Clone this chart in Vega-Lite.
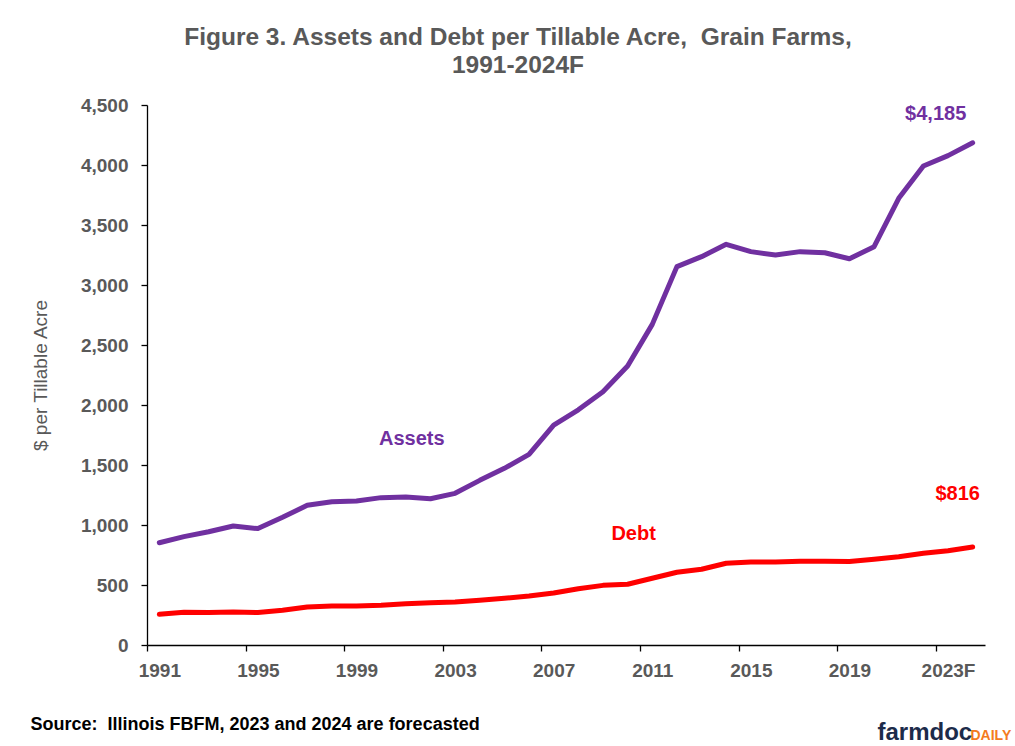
{
  "$schema": "https://vega.github.io/schema/vega-lite/v6.json",
  "width": 838,
  "height": 540,
  "autosize": "none",
  "padding": {"left": 147, "top": 105, "right": 30, "bottom": 101},
  "background": "#ffffff",
  "title": {
    "text": ["Figure 3. Assets and Debt per Tillable Acre,\u00a0 Grain Farms,", "1991-2024F"],
    "font": "Liberation Sans",
    "fontSize": 24.5,
    "fontWeight": "bold",
    "color": "#595959",
    "lineHeight": 28,
    "anchor": "middle",
    "frame": "group",
    "baseline": "bottom",
    "offset": -6,
    "dx": -48
  },
  "config": {
    "view": {"stroke": null},
    "font": "Liberation Sans",
    "axis": {
      "domainColor": "#000000",
      "domainWidth": 1.3,
      "tickColor": "#000000",
      "tickWidth": 1.3,
      "tickSize": 6,
      "labelFont": "Liberation Sans",
      "labelFontSize": 19,
      "labelFontWeight": "bold",
      "labelColor": "#595959",
      "grid": false
    }
  },
  "datasets": {
    "farm": [
      {"year": 1991, "series": "Assets", "value": 852},
      {"year": 1992, "series": "Assets", "value": 903},
      {"year": 1993, "series": "Assets", "value": 944},
      {"year": 1994, "series": "Assets", "value": 992},
      {"year": 1995, "series": "Assets", "value": 970},
      {"year": 1996, "series": "Assets", "value": 1064},
      {"year": 1997, "series": "Assets", "value": 1164},
      {"year": 1998, "series": "Assets", "value": 1194},
      {"year": 1999, "series": "Assets", "value": 1200},
      {"year": 2000, "series": "Assets", "value": 1228},
      {"year": 2001, "series": "Assets", "value": 1233},
      {"year": 2002, "series": "Assets", "value": 1219},
      {"year": 2003, "series": "Assets", "value": 1264},
      {"year": 2004, "series": "Assets", "value": 1372},
      {"year": 2005, "series": "Assets", "value": 1472},
      {"year": 2006, "series": "Assets", "value": 1589},
      {"year": 2007, "series": "Assets", "value": 1833},
      {"year": 2008, "series": "Assets", "value": 1960},
      {"year": 2009, "series": "Assets", "value": 2111},
      {"year": 2010, "series": "Assets", "value": 2325},
      {"year": 2011, "series": "Assets", "value": 2672},
      {"year": 2012, "series": "Assets", "value": 3153},
      {"year": 2013, "series": "Assets", "value": 3236},
      {"year": 2014, "series": "Assets", "value": 3339},
      {"year": 2015, "series": "Assets", "value": 3278},
      {"year": 2016, "series": "Assets", "value": 3250},
      {"year": 2017, "series": "Assets", "value": 3278},
      {"year": 2018, "series": "Assets", "value": 3269},
      {"year": 2019, "series": "Assets", "value": 3219},
      {"year": 2020, "series": "Assets", "value": 3319},
      {"year": 2021, "series": "Assets", "value": 3722},
      {"year": 2022, "series": "Assets", "value": 3992},
      {"year": 2023, "series": "Assets", "value": 4078},
      {"year": 2024, "series": "Assets", "value": 4185},
      {"year": 1991, "series": "Debt", "value": 256},
      {"year": 1992, "series": "Debt", "value": 272},
      {"year": 1993, "series": "Debt", "value": 270},
      {"year": 1994, "series": "Debt", "value": 275},
      {"year": 1995, "series": "Debt", "value": 270},
      {"year": 1996, "series": "Debt", "value": 289},
      {"year": 1997, "series": "Debt", "value": 317},
      {"year": 1998, "series": "Debt", "value": 325},
      {"year": 1999, "series": "Debt", "value": 325},
      {"year": 2000, "series": "Debt", "value": 331},
      {"year": 2001, "series": "Debt", "value": 344},
      {"year": 2002, "series": "Debt", "value": 353},
      {"year": 2003, "series": "Debt", "value": 358},
      {"year": 2004, "series": "Debt", "value": 372},
      {"year": 2005, "series": "Debt", "value": 389},
      {"year": 2006, "series": "Debt", "value": 408},
      {"year": 2007, "series": "Debt", "value": 433},
      {"year": 2008, "series": "Debt", "value": 469},
      {"year": 2009, "series": "Debt", "value": 497},
      {"year": 2010, "series": "Debt", "value": 506},
      {"year": 2011, "series": "Debt", "value": 556},
      {"year": 2012, "series": "Debt", "value": 606},
      {"year": 2013, "series": "Debt", "value": 631},
      {"year": 2014, "series": "Debt", "value": 681},
      {"year": 2015, "series": "Debt", "value": 692},
      {"year": 2016, "series": "Debt", "value": 692},
      {"year": 2017, "series": "Debt", "value": 697},
      {"year": 2018, "series": "Debt", "value": 697},
      {"year": 2019, "series": "Debt", "value": 695},
      {"year": 2020, "series": "Debt", "value": 714},
      {"year": 2021, "series": "Debt", "value": 736},
      {"year": 2022, "series": "Debt", "value": 764},
      {"year": 2023, "series": "Debt", "value": 786},
      {"year": 2024, "series": "Debt", "value": 816}
    ]
  },
  "data": {"name": "farm"},
  "layer": [
    {
      "encoding": {
        "x": {
          "field": "year",
          "type": "quantitative",
          "scale": {"domain": [1990.5, 2024.5], "nice": false, "zero": false},
          "axis": {
            "values": [1991, 1995, 1999, 2003, 2007, 2011, 2015, 2019, 2023],
            "tickOffset": -12.32,
            "labelOffset": 12.32,
            "labelPadding": 10,
            "labelExpr": "datum.value == 2023 ? '2023F' : format(datum.value, 'd')",
            "labelFlush": false,
            "labelOverlap": false,
            "title": "Source:\u00a0 Illinois FBFM, 2023 and 2024 are forecasted",
            "titleFont": "Liberation Sans",
            "titleFontSize": 18,
            "titleFontWeight": "bold",
            "titleColor": "#000000",
            "titleAnchor": "start",
            "titleAlign": "left",
            "titleBaseline": "alphabetic",
            "titleX": -117,
            "titleY": 84
          }
        },
        "y": {
          "field": "value",
          "type": "quantitative",
          "scale": {"domain": [0, 4500], "nice": false},
          "axis": {
            "values": [0, 500, 1000, 1500, 2000, 2500, 3000, 3500, 4000, 4500],
            "format": ",d",
            "labelPadding": 13,
            "title": "$ per Tillable Acre",
            "titleFont": "Liberation Sans",
            "titleFontSize": 19,
            "titleFontWeight": "normal",
            "titleColor": "#595959",
            "titlePadding": 30
          }
        },
        "color": {
          "field": "series",
          "type": "nominal",
          "scale": {"domain": ["Assets", "Debt"], "range": ["#7030A0", "#FF0000"]},
          "legend": null
        }
      },
      "layer": [
        {
          "mark": {"type": "line", "strokeWidth": 5, "strokeCap": "round", "strokeJoin": "round"}
        },
        {
          "transform": [{"filter": "datum.series == 'Assets' && datum.year == 2001"}],
          "mark": {"type": "text", "fontSize": 20, "fontWeight": "bold", "dx": 6, "dy": -58, "align": "center", "baseline": "middle"},
          "encoding": {"text": {"field": "series"}}
        },
        {
          "transform": [{"filter": "datum.series == 'Debt' && datum.year == 2010"}],
          "mark": {"type": "text", "fontSize": 20, "fontWeight": "bold", "dx": 6, "dy": -50, "align": "center", "baseline": "middle"},
          "encoding": {"text": {"field": "series"}}
        }
      ]
    },
    {
      "transform": [
        {"filter": "datum.year == 2024"},
        {"calculate": "'$' + format(datum.value, ',')", "as": "endLabel"}
      ],
      "encoding": {
        "x": {
          "field": "year",
          "type": "quantitative",
          "scale": {"domain": [1990.5, 2024.5], "nice": false, "zero": false},
          "axis": {
            "orient": "top",
            "domain": false,
            "ticks": false,
            "labels": false,
            "title": "DAILY",
            "titleFont": "Liberation Sans",
            "titleFontSize": 14,
            "titleFontWeight": "bold",
            "titleColor": "#F47B20",
            "titleAnchor": "start",
            "titleAlign": "left",
            "titleBaseline": "alphabetic",
            "titleX": 823,
            "titleY": 634
          }
        },
        "y": {
          "field": "value",
          "type": "quantitative",
          "scale": {"domain": [0, 4500], "nice": false},
          "axis": {
            "orient": "right",
            "domain": false,
            "ticks": false,
            "labels": false,
            "title": "farmdoc",
            "titleFont": "Liberation Sans",
            "titleFontSize": 24,
            "titleFontWeight": "bold",
            "titleColor": "#1C2B4A",
            "titleAngle": 0,
            "titleAlign": "left",
            "titleBaseline": "alphabetic",
            "titleX": -108,
            "titleY": 634
          }
        },
        "color": {
          "field": "series",
          "type": "nominal",
          "scale": {"domain": ["Assets", "Debt"], "range": ["#7030A0", "#FF0000"]},
          "legend": null
        },
        "text": {"field": "endLabel"}
      },
      "layer": [
        {
          "transform": [{"filter": "datum.series == 'Assets'"}],
          "mark": {"type": "text", "fontSize": 20, "fontWeight": "bold", "dx": -37, "dy": -29, "align": "center", "baseline": "middle"}
        },
        {
          "transform": [{"filter": "datum.series == 'Debt'"}],
          "mark": {"type": "text", "fontSize": 20, "fontWeight": "bold", "dx": -15, "dy": -53, "align": "center", "baseline": "middle"}
        }
      ]
    }
  ],
  "resolve": {"scale": {"x": "independent", "y": "independent"}}
}
